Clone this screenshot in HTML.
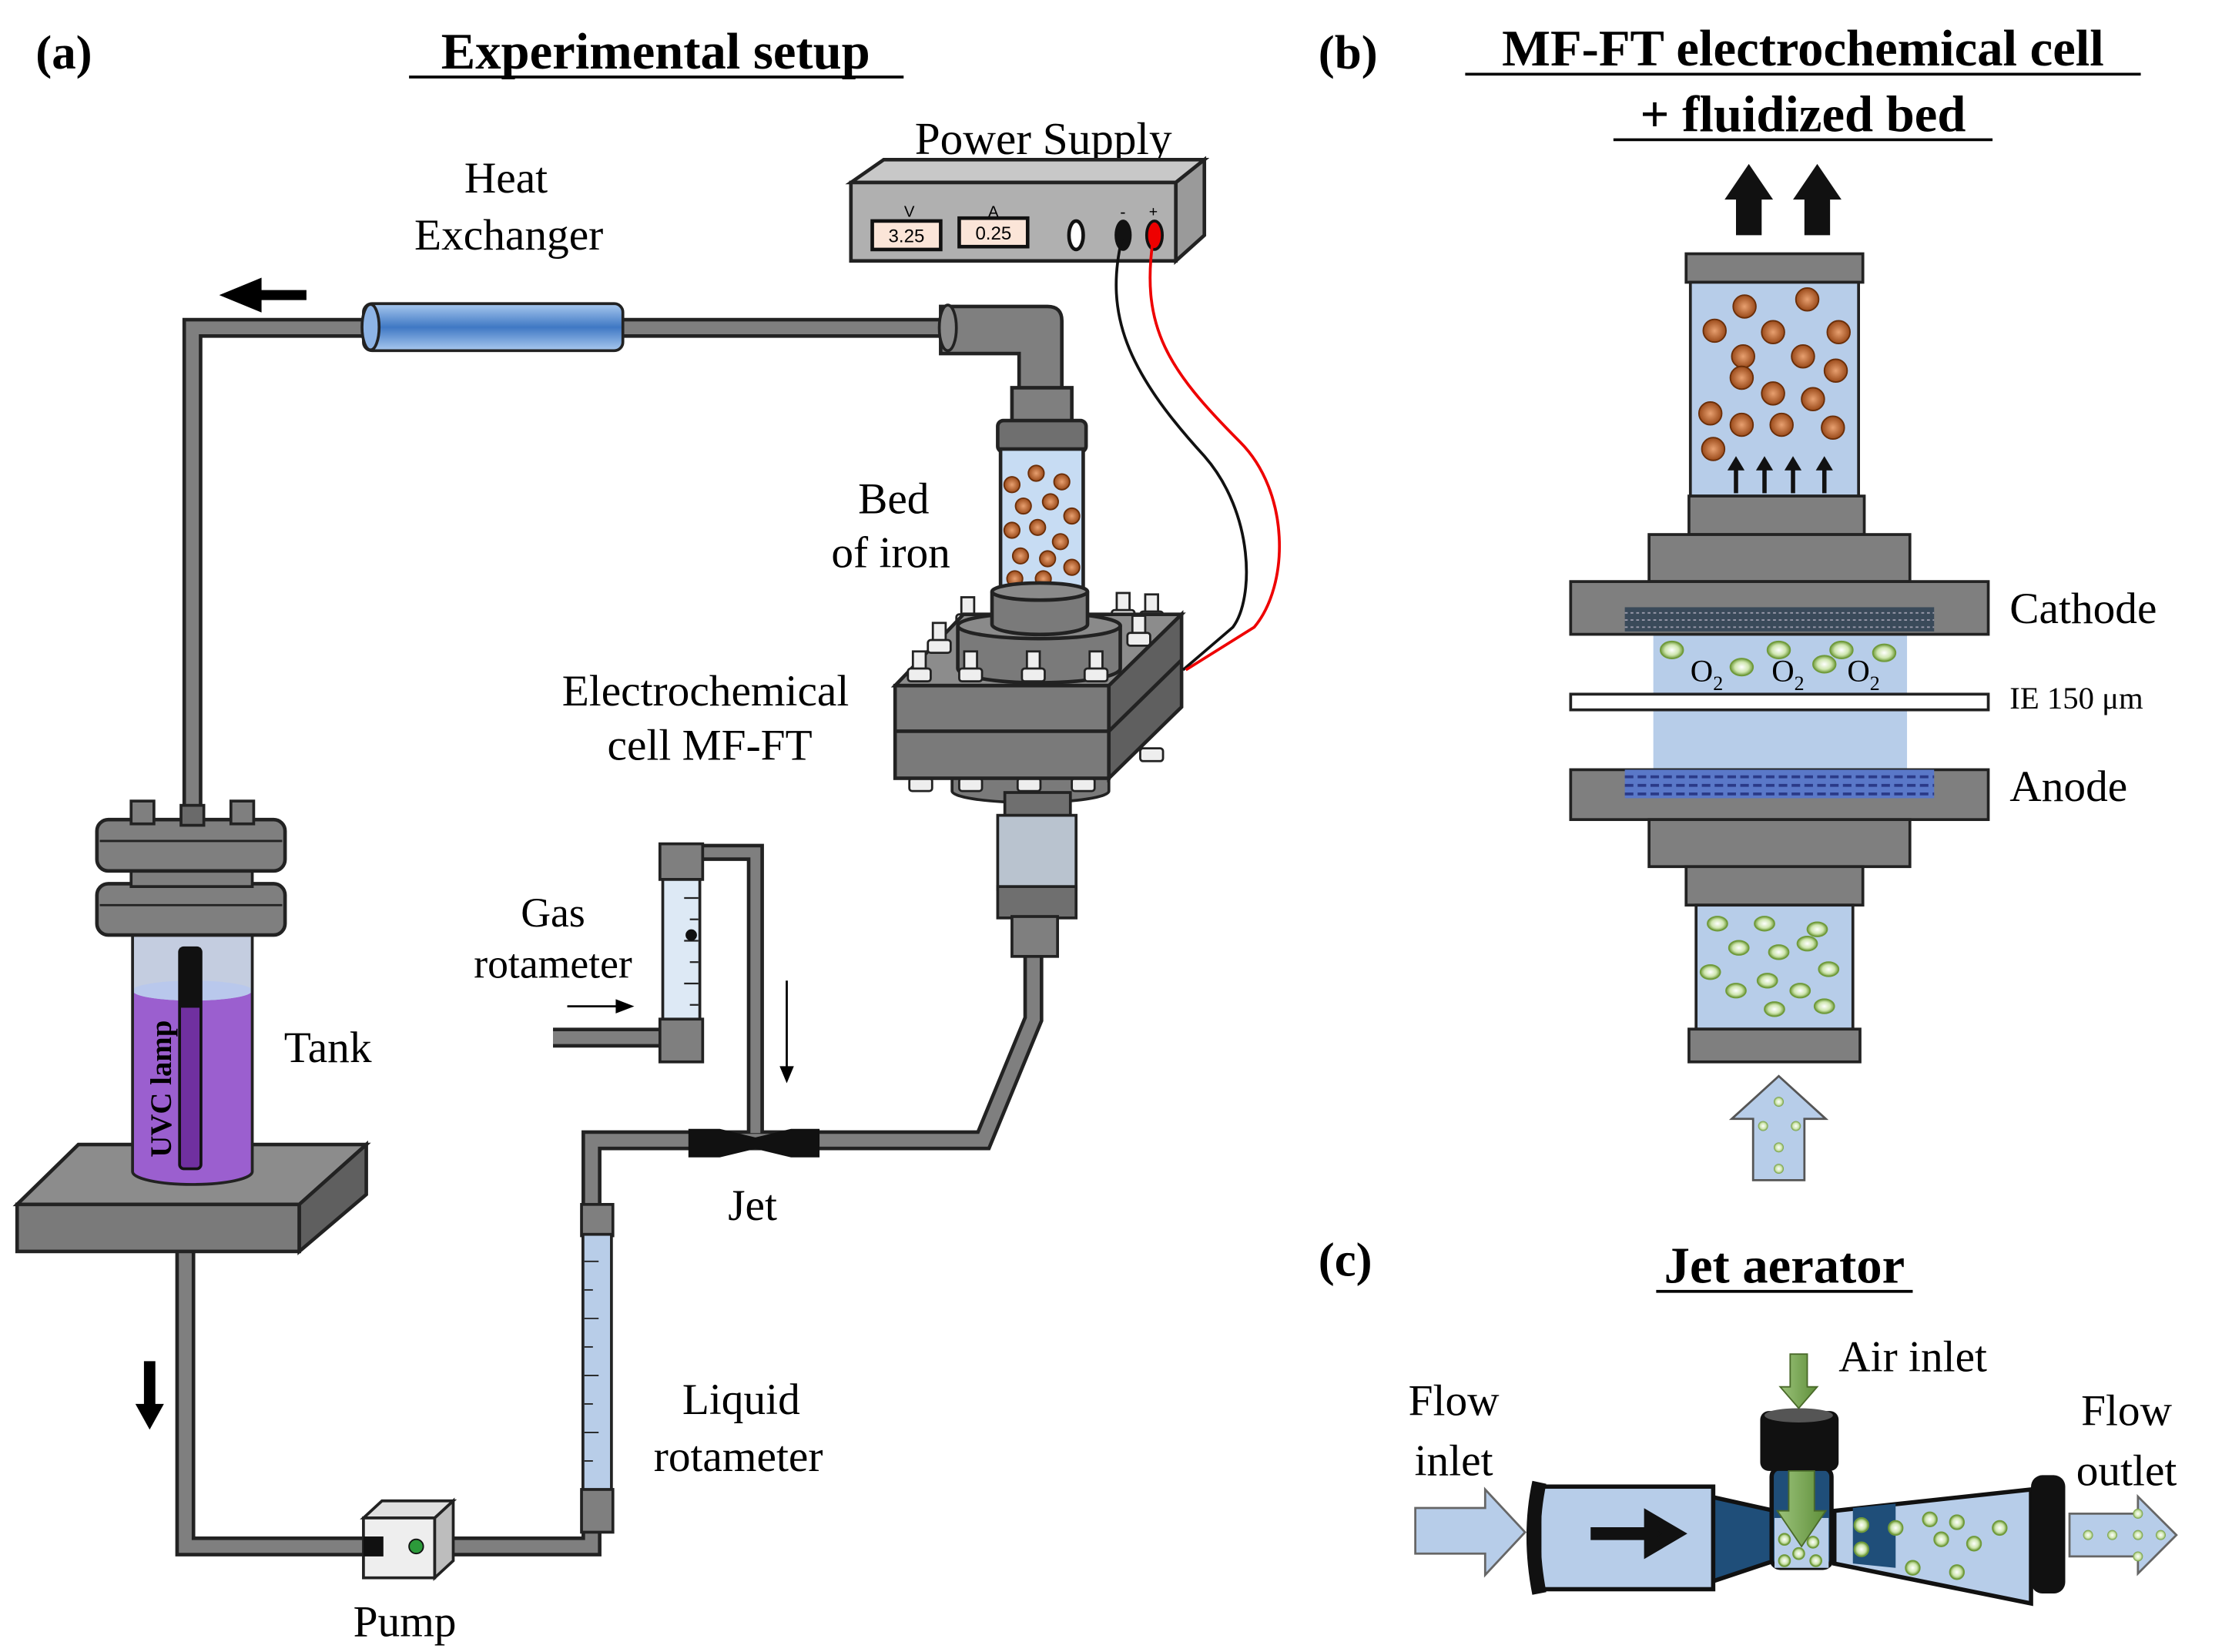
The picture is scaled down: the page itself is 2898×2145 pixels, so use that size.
<!DOCTYPE html>
<html><head><meta charset="utf-8"><style>
html,body{margin:0;padding:0;background:#fff;}
svg{display:block;}
text{font-family:"Liberation Serif",serif;fill:#000;}
</style></head><body>
<svg width="2898" height="2145" viewBox="0 0 1566 1159" xmlns="http://www.w3.org/2000/svg">
<defs>
<linearGradient id="hx" x1="0" y1="0" x2="0" y2="1"><stop offset="0" stop-color="#a9c9ef"/><stop offset=".5" stop-color="#3f78c4"/><stop offset="1" stop-color="#a9c9ef"/></linearGradient>
<radialGradient id="bead"><stop offset="0" stop-color="#e8a070"/><stop offset="1" stop-color="#9a4a1a"/></radialGradient>
<radialGradient id="bub"><stop offset="0" stop-color="#ffffff"/><stop offset=".6" stop-color="#cfe6b0"/><stop offset="1" stop-color="#6f9a3a"/></radialGradient>
<linearGradient id="grn" x1="0" y1="0" x2="1" y2="0"><stop offset="0" stop-color="#9bc27a"/><stop offset="1" stop-color="#5f8f3a"/></linearGradient>
<g id="bolt"><rect x="-4.5" y="0" width="9" height="14" fill="#eee" stroke="#222" stroke-width="1.5"/><rect x="-8" y="12" width="16" height="9" rx="2" fill="#eee" stroke="#222" stroke-width="1.5"/></g>
</defs>

<!-- titles -->
<text x="25" y="48" font-size="34" font-weight="bold">(a)</text>
<text x="460" y="48" font-size="36" font-weight="bold" text-anchor="middle">Experimental setup</text>
<line x1="287" y1="54" x2="634" y2="54" stroke="#000" stroke-width="2"/>
<text x="925" y="48" font-size="34" font-weight="bold">(b)</text>
<text x="1265" y="46" font-size="36" font-weight="bold" text-anchor="middle">MF-FT electrochemical cell</text>
<line x1="1028" y1="52" x2="1502" y2="52" stroke="#000" stroke-width="2"/>
<text x="1265" y="92" font-size="36" font-weight="bold" text-anchor="middle">+ fluidized bed</text>
<line x1="1132" y1="98" x2="1398" y2="98" stroke="#000" stroke-width="2"/>

<text x="732" y="108" font-size="32" text-anchor="middle">Power Supply</text>
<text x="355" y="135" font-size="31" text-anchor="middle">Heat</text>
<text x="357" y="175" font-size="31" text-anchor="middle">Exchanger</text>

<!-- pipes -->
<g fill="none" stroke-linejoin="miter">
<path d="M135,575 V230 H690" stroke="#222" stroke-width="14"/>
<path d="M135,575 V230 H690" stroke="#7f7f7f" stroke-width="9"/>
<path d="M130,875 V1085 H415 V800 H690 L725,715 V670" stroke="#222" stroke-width="14"/>
<path d="M130,875 V1085 H415 V800 H690 L725,715 V670" stroke="#7f7f7f" stroke-width="9"/>
<path d="M490,598 H530 V795" stroke="#222" stroke-width="12"/>
<path d="M490,598 H530 V795" stroke="#7f7f7f" stroke-width="7"/>
<path d="M388,728 H465" stroke="#222" stroke-width="14"/>
<path d="M388,728 H465" stroke="#7f7f7f" stroke-width="9"/>
</g>
<!-- heat exchanger -->
<rect x="255" y="213" width="182" height="33" rx="6" fill="url(#hx)" stroke="#222" stroke-width="2"/>
<ellipse cx="260" cy="229.5" rx="6" ry="16" fill="#8db4e6" stroke="#222" stroke-width="2"/>
<path d="M215,207 H180 M180,200 L163,207 L180,214 Z" stroke="#000" stroke-width="7" fill="#000"/>

<!-- elbow -->
<path d="M660,215 H735 Q745,215 745,225 V282 H715 V248 H660 Z" fill="#7f7f7f" stroke="#222" stroke-width="2.5"/>
<ellipse cx="665" cy="230" rx="6" ry="16" fill="#8a8a8a" stroke="#222" stroke-width="2"/>
<rect x="710" y="272" width="42" height="28" fill="#7f7f7f" stroke="#222" stroke-width="2.5"/>
<rect x="700" y="295" width="62" height="22" rx="4" fill="#6f6f6f" stroke="#222" stroke-width="2.5"/>
<rect x="702" y="315" width="58" height="100" fill="#c7dcf3" stroke="#222" stroke-width="2.5"/>
<g fill="url(#bead)" stroke="#6a2e08" stroke-width="1">
<circle cx="710" cy="340" r="5.5"/><circle cx="727" cy="332" r="5.5"/><circle cx="745" cy="338" r="5.5"/><circle cx="718" cy="355" r="5.5"/><circle cx="737" cy="352" r="5.5"/><circle cx="752" cy="362" r="5.5"/><circle cx="710" cy="372" r="5.5"/><circle cx="728" cy="370" r="5.5"/><circle cx="744" cy="380" r="5.5"/><circle cx="716" cy="390" r="5.5"/><circle cx="735" cy="392" r="5.5"/><circle cx="752" cy="398" r="5.5"/><circle cx="712" cy="406" r="5.5"/><circle cx="732" cy="406" r="5.5"/>
</g>
<text x="627" y="360" font-size="31" text-anchor="middle">Bed</text>
<text x="625" y="398" font-size="31" text-anchor="middle">of iron</text>

<!-- cell -->
<use href="#bolt" x="679" y="419"/><use href="#bolt" x="788" y="416"/><use href="#bolt" x="808" y="417"/>
<path d="M628,481 L676,431 L829,431 L778,481 Z" fill="#8c8c8c" stroke="#222" stroke-width="2.5"/>
<use href="#bolt" x="659" y="437"/><use href="#bolt" x="799" y="432"/>
<path d="M672,439 V469 A57,10 0 0 0 786,469 V439" fill="#7a7a7a" stroke="#222" stroke-width="2.5"/>
<ellipse cx="729" cy="439" rx="57" ry="9" fill="#8a8a8a" stroke="#222" stroke-width="2.5"/>
<path d="M696,415 V438 A33,7 0 0 0 763,438 V415" fill="#7a7a7a" stroke="#222" stroke-width="2.5"/>
<ellipse cx="729.5" cy="415" rx="33.5" ry="6" fill="#8a8a8a" stroke="#222" stroke-width="2.5"/>
<use href="#bolt" x="645" y="457"/><use href="#bolt" x="681" y="457"/><use href="#bolt" x="725" y="457"/><use href="#bolt" x="769" y="457"/>
<path d="M668,546 V555 A55,8 0 0 0 778,555 V546 Z" fill="#7a7a7a" stroke="#222" stroke-width="2"/>
<rect x="638" y="546" width="16" height="9" rx="2" fill="#eee" stroke="#222" stroke-width="1.5"/>
<rect x="673" y="546" width="16" height="9" rx="2" fill="#eee" stroke="#222" stroke-width="1.5"/>
<rect x="714" y="546" width="16" height="9" rx="2" fill="#eee" stroke="#222" stroke-width="1.5"/>
<rect x="752" y="546" width="16" height="9" rx="2" fill="#eee" stroke="#222" stroke-width="1.5"/>
<rect x="800" y="525" width="16" height="9" rx="2" fill="#eee" stroke="#222" stroke-width="1.5"/>
<rect x="628" y="481" width="150" height="65" fill="#7a7a7a" stroke="#222" stroke-width="2.5"/>
<line x1="628" y1="513" x2="778" y2="513" stroke="#222" stroke-width="2.5"/>
<path d="M778,481 L829,431 L829,496 L778,546 Z" fill="#5f5f5f" stroke="#222" stroke-width="2.5"/>
<line x1="778" y1="513" x2="829" y2="463" stroke="#222" stroke-width="2.5"/>
<text x="495" y="495" font-size="31" text-anchor="middle">Electrochemical</text>
<text x="498" y="533" font-size="31" text-anchor="middle">cell MF-FT</text>
<rect x="705" y="556" width="46" height="18" fill="#6f6f6f" stroke="#222" stroke-width="2"/>
<rect x="700" y="572" width="55" height="52" fill="#b9c3cf" stroke="#222" stroke-width="2"/>
<rect x="700" y="622" width="55" height="22" fill="#6f6f6f" stroke="#222" stroke-width="2"/>
<rect x="710" y="643" width="32" height="28" fill="#7f7f7f" stroke="#222" stroke-width="2"/>

<!-- power supply -->
<path d="M597,128 L620,112 L845,112 L825,128 Z" fill="#c8c8c8" stroke="#222" stroke-width="2.5"/>
<rect x="597" y="128" width="228" height="55" fill="#b0b0b0" stroke="#222" stroke-width="2.5"/>
<path d="M825,128 L845,112 L845,165 L825,183 Z" fill="#9a9a9a" stroke="#222" stroke-width="2.5"/>
<rect x="612" y="155" width="48" height="20" fill="#fbe5d8" stroke="#111" stroke-width="2.5"/>
<rect x="673" y="153" width="48" height="20" fill="#fbe5d8" stroke="#111" stroke-width="2.5"/>
<text x="636" y="170" font-size="13" text-anchor="middle" style="font-family:'Liberation Sans',sans-serif">3.25</text>
<text x="697" y="168" font-size="13" text-anchor="middle" style="font-family:'Liberation Sans',sans-serif">0.25</text>
<text x="638" y="152" font-size="11" text-anchor="middle" style="font-family:'Liberation Sans',sans-serif">V</text>
<text x="697" y="152" font-size="11" text-anchor="middle" style="font-family:'Liberation Sans',sans-serif">A</text>
<ellipse cx="755" cy="165" rx="5" ry="10" fill="#fff" stroke="#111" stroke-width="2.5"/>
<ellipse cx="788" cy="165" rx="6" ry="11" fill="#111"/>
<ellipse cx="810" cy="165" rx="5.5" ry="10" fill="#e00" stroke="#111" stroke-width="2"/>
<text x="786" y="152" font-size="11" font-weight="bold">-</text><text x="806" y="152" font-size="11" font-weight="bold">+</text>
<path d="M787,168 C775,220 790,260 845,320 C880,360 880,420 865,440 L830,470" fill="none" stroke="#111" stroke-width="2"/>
<path d="M809,168 C800,230 820,260 870,310 C905,345 905,410 880,440 L832,470" fill="none" stroke="#e00" stroke-width="2"/>

<!-- gas rotameter -->
<rect x="463" y="592" width="30" height="25" fill="#7f7f7f" stroke="#222" stroke-width="2"/>
<rect x="465" y="617" width="26" height="100" fill="#dde9f5" stroke="#222" stroke-width="2"/>
<g stroke="#222" stroke-width="1.2"><line x1="480" y1="630" x2="490" y2="630"/><line x1="484" y1="645" x2="490" y2="645"/><line x1="480" y1="660" x2="490" y2="660"/><line x1="484" y1="675" x2="490" y2="675"/><line x1="480" y1="690" x2="490" y2="690"/><line x1="484" y1="705" x2="490" y2="705"/></g>
<circle cx="485" cy="656" r="4" fill="#111"/>
<rect x="463" y="715" width="30" height="30" fill="#7f7f7f" stroke="#222" stroke-width="2"/>
<text x="388" y="650" font-size="29" text-anchor="middle">Gas</text>
<text x="388" y="686" font-size="29" text-anchor="middle">rotameter</text>
<path d="M398,706 H438" stroke="#000" stroke-width="1.5"/><path d="M445,706 L432,701 L432,711 Z"/>
<path d="M552,688 V752" stroke="#000" stroke-width="1.5"/><path d="M552,760 L547,748 L557,748 Z"/>
<path d="M483,792 H505 L530,798 L555,792 H575 V812 H555 L530,806 L505,812 H483 Z" fill="#111"/>
<text x="528" y="856" font-size="31" text-anchor="middle">Jet</text>

<!-- liquid rotameter -->
<rect x="408" y="845" width="22" height="22" fill="#7f7f7f" stroke="#222" stroke-width="2"/>
<rect x="409" y="866" width="20" height="180" fill="#b8cde8" stroke="#222" stroke-width="2"/>
<g stroke="#222" stroke-width="1"><line x1="410" y1="885" x2="420" y2="885"/><line x1="410" y1="905" x2="416" y2="905"/><line x1="410" y1="925" x2="420" y2="925"/><line x1="410" y1="945" x2="416" y2="945"/><line x1="410" y1="965" x2="420" y2="965"/><line x1="410" y1="985" x2="416" y2="985"/><line x1="410" y1="1005" x2="420" y2="1005"/><line x1="410" y1="1025" x2="416" y2="1025"/></g>
<rect x="408" y="1045" width="22" height="30" fill="#7f7f7f" stroke="#222" stroke-width="2"/>
<text x="520" y="992" font-size="31" text-anchor="middle">Liquid</text>
<text x="518" y="1032" font-size="31" text-anchor="middle">rotameter</text>

<!-- pump -->
<path d="M255,1065 L268,1053 L318,1053 L305,1065 Z" fill="#e0e0e0" stroke="#222" stroke-width="2"/>
<rect x="255" y="1065" width="50" height="42" fill="#eee" stroke="#222" stroke-width="2"/>
<path d="M305,1065 L318,1053 L318,1095 L305,1107 Z" fill="#bdbdbd" stroke="#222" stroke-width="2"/>
<rect x="255" y="1078" width="14" height="14" fill="#111"/>
<circle cx="292" cy="1085" r="5" fill="#2c9a3a" stroke="#111"/>
<text x="284" y="1148" font-size="31" text-anchor="middle">Pump</text>

<!-- tank -->
<path d="M12,845 L55,803 L257,803 L210,845 Z" fill="#8c8c8c" stroke="#222" stroke-width="2.5"/>
<rect x="12" y="845" width="198" height="33" fill="#7a7a7a" stroke="#222" stroke-width="2.5"/>
<path d="M210,845 L257,803 L257,838 L210,878 Z" fill="#5f5f5f" stroke="#222" stroke-width="2.5"/>
<path d="M93,655 H177 V822 A42,9 0 0 1 93,822 Z" fill="#c4cde0"/>
<path d="M93,695 A42,7 0 0 0 177,695 V822 A42,9 0 0 1 93,822 Z" fill="#9b5fcf"/>
<ellipse cx="135" cy="695" rx="42" ry="7" fill="#b9c8ec"/>
<path d="M93,655 H177 V822 A42,9 0 0 1 93,822 Z" fill="none" stroke="#222" stroke-width="2"/>
<rect x="126" y="665" width="15" height="155" rx="3" fill="#7030a0" stroke="#111" stroke-width="2"/>
<rect x="126" y="665" width="15" height="42" fill="#111"/>
<text transform="translate(120,812) rotate(-90)" font-size="21" font-weight="bold">UVC lamp</text>
<rect x="68" y="620" width="132" height="36" rx="8" fill="#7f7f7f" stroke="#222" stroke-width="2.5"/>
<rect x="92" y="606" width="85" height="16" fill="#7f7f7f" stroke="#222" stroke-width="2"/>
<rect x="68" y="575" width="132" height="36" rx="8" fill="#7f7f7f" stroke="#222" stroke-width="2.5"/>
<line x1="70" y1="590" x2="198" y2="590" stroke="#222" stroke-width="1.5"/>
<line x1="70" y1="635" x2="198" y2="635" stroke="#222" stroke-width="1.5"/>
<rect x="92" y="562" width="16" height="16" fill="#7f7f7f" stroke="#222" stroke-width="2"/>
<rect x="162" y="562" width="16" height="16" fill="#7f7f7f" stroke="#222" stroke-width="2"/>
<rect x="127" y="565" width="16" height="14" fill="#6a6a6a" stroke="#222" stroke-width="2"/>
<text x="230" y="745" font-size="31" text-anchor="middle">Tank</text>
<path d="M105,955 V990" stroke="#000" stroke-width="8"/><path d="M95,985 L105,1003 L115,985 Z"/>

<!-- panel b -->
<g fill="#111"><path d="M1218,165 V140 H1210 L1227,115 L1244,140 H1236 V165 Z"/><path d="M1266,165 V140 H1258 L1275,115 L1292,140 H1284 V165 Z"/></g>
<rect x="1183" y="178" width="124" height="20" fill="#7f7f7f" stroke="#222" stroke-width="2"/>
<rect x="1186" y="198" width="118" height="150" fill="#b7cde9" stroke="#222" stroke-width="2"/>
<g fill="url(#bead)" stroke="#6a2e08" stroke-width="1">
<circle cx="1224" cy="215" r="8"/><circle cx="1268" cy="210" r="8"/><circle cx="1203" cy="232" r="8"/><circle cx="1244" cy="233" r="8"/><circle cx="1290" cy="233" r="8"/><circle cx="1223" cy="250" r="8"/><circle cx="1265" cy="250" r="8"/><circle cx="1288" cy="260" r="8"/><circle cx="1222" cy="265" r="8"/><circle cx="1244" cy="276" r="8"/><circle cx="1200" cy="290" r="8"/><circle cx="1272" cy="280" r="8"/><circle cx="1222" cy="298" r="8"/><circle cx="1250" cy="298" r="8"/><circle cx="1286" cy="300" r="8"/><circle cx="1202" cy="315" r="8"/>
</g>
<g stroke="#111" stroke-width="3" fill="#111"><line x1="1218" y1="346" x2="1218" y2="328"/><line x1="1238" y1="346" x2="1238" y2="328"/><line x1="1258" y1="346" x2="1258" y2="328"/><line x1="1280" y1="346" x2="1280" y2="328"/>
<path d="M1212,330 L1218,320 L1224,330 Z M1232,330 L1238,320 L1244,330 Z M1252,330 L1258,320 L1264,330 Z M1274,330 L1280,320 L1286,330 Z" stroke="none"/></g>
<rect x="1185" y="348" width="123" height="27" fill="#7f7f7f" stroke="#222" stroke-width="2"/>
<rect x="1157" y="375" width="183" height="33" fill="#7f7f7f" stroke="#222" stroke-width="2"/>
<rect x="1160" y="445" width="178" height="95" fill="#b7cde9"/>
<rect x="1102" y="408" width="293" height="37" fill="#7f7f7f" stroke="#222" stroke-width="2"/>
<rect x="1140" y="426" width="217" height="17" fill="#3a4a5a"/>
<path d="M1140,430 H1357 M1140,435 H1357 M1140,440 H1357" stroke="#99a" stroke-width="1" stroke-dasharray="2 2"/>
<g fill="url(#bub)" stroke="#6f9a3a" stroke-width="1">
<ellipse cx="1173" cy="456" rx="8" ry="6"/><ellipse cx="1222" cy="468" rx="8" ry="6"/><ellipse cx="1248" cy="456" rx="8" ry="6"/><ellipse cx="1280" cy="466" rx="8" ry="6"/><ellipse cx="1292" cy="456" rx="8" ry="6"/><ellipse cx="1322" cy="458" rx="8" ry="6"/></g>
<text x="1186" y="478" font-size="22">O<tspan font-size="14" dy="6">2</tspan></text>
<text x="1243" y="478" font-size="22">O<tspan font-size="14" dy="6">2</tspan></text>
<text x="1296" y="478" font-size="22">O<tspan font-size="14" dy="6">2</tspan></text>
<rect x="1102" y="487" width="293" height="11" fill="#fff" stroke="#222" stroke-width="2"/>
<rect x="1102" y="540" width="293" height="35" fill="#7f7f7f" stroke="#222" stroke-width="2"/>
<rect x="1140" y="540" width="217" height="20" fill="#5a78c8"/>
<path d="M1140,545 H1357 M1140,551 H1357 M1140,557 H1357" stroke="#2a3a88" stroke-width="2" stroke-dasharray="6 3"/>
<rect x="1157" y="575" width="183" height="33" fill="#7f7f7f" stroke="#222" stroke-width="2"/>
<rect x="1183" y="608" width="124" height="27" fill="#7f7f7f" stroke="#222" stroke-width="2"/>
<rect x="1190" y="635" width="110" height="87" fill="#b7cde9" stroke="#222" stroke-width="2"/>
<g fill="url(#bub)" stroke="#6f9a3a" stroke-width="1">
<ellipse cx="1205" cy="648" rx="7" ry="5"/><ellipse cx="1238" cy="648" rx="7" ry="5"/><ellipse cx="1275" cy="652" rx="7" ry="5"/><ellipse cx="1220" cy="665" rx="7" ry="5"/><ellipse cx="1248" cy="668" rx="7" ry="5"/><ellipse cx="1268" cy="662" rx="7" ry="5"/><ellipse cx="1200" cy="682" rx="7" ry="5"/><ellipse cx="1240" cy="688" rx="7" ry="5"/><ellipse cx="1283" cy="680" rx="7" ry="5"/><ellipse cx="1218" cy="695" rx="7" ry="5"/><ellipse cx="1263" cy="695" rx="7" ry="5"/><ellipse cx="1245" cy="708" rx="7" ry="5"/><ellipse cx="1280" cy="706" rx="7" ry="5"/></g>
<rect x="1185" y="722" width="120" height="23" fill="#7f7f7f" stroke="#222" stroke-width="2"/>
<path d="M1230,828 V785 H1215 L1248,755 L1281,785 H1266 V828 Z" fill="#b7cde9" stroke="#555" stroke-width="1.5"/>
<g fill="url(#bub)"><circle cx="1248" cy="773" r="3.5"/><circle cx="1237" cy="790" r="3.5"/><circle cx="1260" cy="790" r="3.5"/><circle cx="1248" cy="805" r="3.5"/><circle cx="1248" cy="820" r="3.5"/></g>
<text x="1410" y="437" font-size="31">Cathode</text>
<text x="1410" y="497" font-size="22">IE 150 μm</text>
<text x="1410" y="562" font-size="31">Anode</text>

<!-- panel c -->
<text x="925" y="895" font-size="34" font-weight="bold">(c)</text>
<text x="1252" y="900" font-size="36" font-weight="bold" text-anchor="middle">Jet aerator</text>
<line x1="1162" y1="906" x2="1342" y2="906" stroke="#000" stroke-width="2"/>
<text x="1290" y="962" font-size="31">Air inlet</text>
<text x="1020" y="993" font-size="31" text-anchor="middle">Flow</text>
<text x="1020" y="1035" font-size="31" text-anchor="middle">inlet</text>
<text x="1492" y="1000" font-size="31" text-anchor="middle">Flow</text>
<text x="1492" y="1042" font-size="31" text-anchor="middle">outlet</text>
<path d="M993,1058 H1042 V1045 L1070,1075 L1042,1105 V1090 H993 Z" fill="#b7cde9" stroke="#666" stroke-width="1.5"/>
<path d="M1452,1062 H1500 V1050 L1527,1077 L1500,1104 V1092 H1452 Z" fill="#b7cde9" stroke="#666" stroke-width="1.5"/>
<g fill="url(#bub)"><circle cx="1465" cy="1077" r="3.5"/><circle cx="1482" cy="1077" r="3.5"/><circle cx="1500" cy="1077" r="3.5"/><circle cx="1516" cy="1077" r="3.5"/><circle cx="1500" cy="1062" r="3.5"/><circle cx="1500" cy="1092" r="3.5"/></g>
<path d="M1200,1050 L1245,1060 V1095 L1200,1110 Z" fill="#1f4e79" stroke="#111" stroke-width="3"/>
<path d="M1287,1060 L1425,1045 V1125 L1287,1097 Z" fill="#b7cde9" stroke="#111" stroke-width="3"/>
<path d="M1300,1058 L1330,1055 V1100 L1300,1097 Z" fill="#1f4e79"/>
<rect x="1080" y="1043" width="122" height="72" fill="#b7cde9" stroke="#111" stroke-width="3"/>
<path d="M1080,1040 Q1072,1077 1080,1118" fill="none" stroke="#111" stroke-width="10"/>
<path d="M1116,1076 H1160 M1158,1066 L1175,1076 L1158,1086 Z" stroke="#111" stroke-width="9" fill="#111"/>
<rect x="1243" y="1030" width="42" height="70" rx="6" fill="#1f4e79" stroke="#111" stroke-width="3"/>
<rect x="1245" y="1065" width="38" height="35" fill="#b7cde9"/>
<rect x="1235" y="990" width="55" height="42" rx="6" fill="#111"/>
<ellipse cx="1262" cy="993" rx="24" ry="5" fill="#555"/>
<path d="M1256,950 V973 H1249 L1262,988 L1275,973 H1268 V950 Z" fill="url(#grn)" stroke="#4a6a2a" stroke-width="1"/>
<path d="M1255,1032 V1060 H1247 L1264,1085 L1281,1060 H1273 V1032 Z" fill="url(#grn)" stroke="#4a6a2a" stroke-width="1"/>
<rect x="1425" y="1035" width="24" height="83" rx="8" fill="#111"/>
<g fill="url(#bub)" stroke="#6f9a3a" stroke-width="1">
<circle cx="1252" cy="1080" r="4"/><circle cx="1272" cy="1082" r="4"/><circle cx="1262" cy="1090" r="4"/><circle cx="1252" cy="1095" r="4"/><circle cx="1274" cy="1095" r="4"/>
<circle cx="1306" cy="1070" r="5"/><circle cx="1330" cy="1072" r="5"/><circle cx="1306" cy="1087" r="5"/><circle cx="1342" cy="1100" r="5"/><circle cx="1354" cy="1066" r="5"/><circle cx="1373" cy="1068" r="5"/><circle cx="1362" cy="1080" r="5"/><circle cx="1385" cy="1083" r="5"/><circle cx="1403" cy="1072" r="5"/><circle cx="1373" cy="1103" r="5"/></g>
</svg>
</body></html>
